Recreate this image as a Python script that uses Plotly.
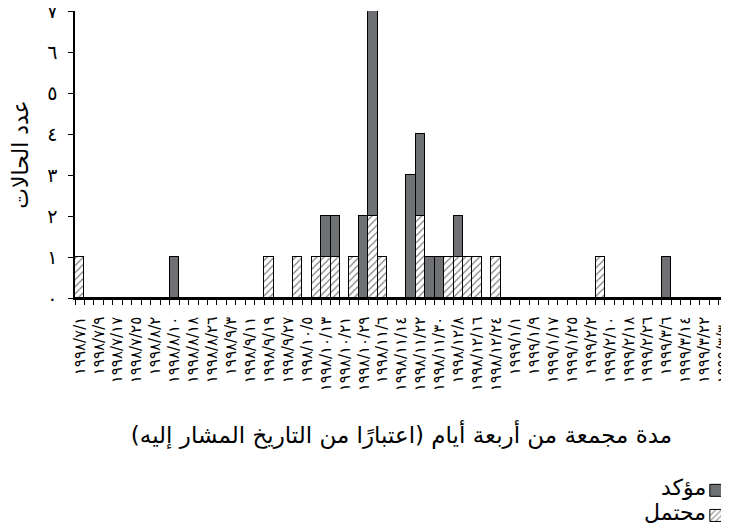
import plotly.graph_objects as go

# 4-day bins (start date of each bin)
categories = [
    "١٩٩٨/٧/١", "١٩٩٨/٧/٥", "١٩٩٨/٧/٩", "١٩٩٨/٧/١٣", "١٩٩٨/٧/١٧", "١٩٩٨/٧/٢١",
    "١٩٩٨/٧/٢٥", "١٩٩٨/٧/٢٩", "١٩٩٨/٨/٢", "١٩٩٨/٨/٦", "١٩٩٨/٨/١٠", "١٩٩٨/٨/١٤",
    "١٩٩٨/٨/١٨", "١٩٩٨/٨/٢٢", "١٩٩٨/٨/٢٦", "١٩٩٨/٨/٣٠", "١٩٩٨/٩/٣", "١٩٩٨/٩/٧",
    "١٩٩٨/٩/١١", "١٩٩٨/٩/١٥", "١٩٩٨/٩/١٩", "١٩٩٨/٩/٢٣", "١٩٩٨/٩/٢٧", "١٩٩٨/١٠/١",
    "١٩٩٨/١٠/٥", "١٩٩٨/١٠/٩", "١٩٩٨/١٠/١٣", "١٩٩٨/١٠/١٧", "١٩٩٨/١٠/٢١", "١٩٩٨/١٠/٢٥",
    "١٩٩٨/١٠/٢٩", "١٩٩٨/١١/٢", "١٩٩٨/١١/٦", "١٩٩٨/١١/١٠", "١٩٩٨/١١/١٤", "١٩٩٨/١١/١٨",
    "١٩٩٨/١١/٢٢", "١٩٩٨/١١/٢٦", "١٩٩٨/١١/٣٠", "١٩٩٨/١٢/٤", "١٩٩٨/١٢/٨", "١٩٩٨/١٢/١٢",
    "١٩٩٨/١٢/١٦", "١٩٩٨/١٢/٢٠", "١٩٩٨/١٢/٢٤", "١٩٩٨/١٢/٢٨", "١٩٩٩/١/١", "١٩٩٩/١/٥",
    "١٩٩٩/١/٩", "١٩٩٩/١/١٣", "١٩٩٩/١/١٧", "١٩٩٩/١/٢١", "١٩٩٩/١/٢٥", "١٩٩٩/١/٢٩",
    "١٩٩٩/٢/٢", "١٩٩٩/٢/٦", "١٩٩٩/٢/١٠", "١٩٩٩/٢/١٤", "١٩٩٩/٢/١٨", "١٩٩٩/٢/٢٢",
    "١٩٩٩/٢/٢٦", "١٩٩٩/٣/٢", "١٩٩٩/٣/٦", "١٩٩٩/٣/١٠", "١٩٩٩/٣/١٤", "١٩٩٩/٣/١٨",
    "١٩٩٩/٣/٢٢", "١٩٩٩/٣/٢٦", "١٩٩٩/٣/٣٠",
]

probable = [
    1, 0, 0, 0, 0, 0, 0, 0, 0, 0,
    0, 0, 0, 0, 0, 0, 0, 0, 0, 0,
    1, 0, 0, 1, 0, 1, 1, 1, 0, 1,
    0, 2, 1, 0, 0, 0, 2, 0, 0, 1,
    1, 1, 1, 0, 1, 0, 0, 0, 0, 0,
    0, 0, 0, 0, 0, 1, 0, 0, 0, 0,
    0, 0, 0, 0, 0, 0, 0, 0, 0,
]

confirmed = [
    0, 0, 0, 0, 0, 0, 0, 0, 0, 0,
    1, 0, 0, 0, 0, 0, 0, 0, 0, 0,
    0, 0, 0, 0, 0, 0, 1, 1, 0, 0,
    2, 5, 0, 0, 0, 3, 2, 1, 1, 0,
    1, 0, 0, 0, 0, 0, 0, 0, 0, 0,
    0, 0, 0, 0, 0, 0, 0, 0, 0, 0,
    0, 0, 1, 0, 0, 0, 0, 0, 0,
]

y_tick_values = [0, 1, 2, 3, 4, 5, 6, 7]
y_tick_labels = ["٠", "١", "٢", "٣", "٤", "٥", "٦", "٧"]

series_names = ["محتمل", "مؤكد"]
x_title = "مدة مجمعة من أربعة أيام (اعتبارًا من التاريخ المشار إليه)\u200f"
y_title = "عدد الحالات"

# show a label on every other bin
x_tick_text = [c if i % 2 == 0 else "" for i, c in enumerate(categories)]

FONT = "DejaVu Sans"

fig = go.Figure()
fig.add_trace(go.Bar(
    x=categories, y=probable, name="",
    hovertemplate=series_names[0] + ": %{y}<extra></extra>",
    marker=dict(color="white", line=dict(color="black", width=1),
                pattern=dict(shape="/", fgcolor="black", bgcolor="white",
                             size=5, solidity=0.25)),
))
fig.add_trace(go.Bar(
    x=categories, y=confirmed, name="",
    hovertemplate=series_names[1] + ": %{y}<extra></extra>",
    marker=dict(color="#6f7073", line=dict(color="black", width=1)),
))

# legend labels, written to the left of the legend swatches (right-to-left legend)
legend_label_y = [-0.749, -0.662]
for name, yy in zip(series_names, legend_label_y):
    fig.add_annotation(text=name, xref="paper", yref="paper", x=0.969, y=yy,
                       xanchor="right", yanchor="middle", showarrow=False,
                       font=dict(size=22, family=FONT, color="black"))

fig.update_layout(
    width=721, height=524,
    margin=dict(l=67, r=1, t=3, b=234, autoexpand=False),
    barmode="stack", bargap=0,
    plot_bgcolor="white", paper_bgcolor="white",
    font=dict(family=FONT, color="black"),
    showlegend=True,
    legend=dict(xref="container", yref="container",
                x=0.954, y=0.113, xanchor="left", yanchor="top",
                traceorder="reversed", font=dict(size=17, family=FONT),
                tracegroupgap=0,
                bgcolor="rgba(0,0,0,0)", itemclick=False),
    xaxis=dict(
        type="category",
        tickmode="array", tickvals=categories, ticktext=x_tick_text,
        tickangle=-90, tickson="boundaries",
        ticks="outside", ticklen=5, tickcolor="black", tickwidth=1,
        ticklabelstandoff=11,
        showline=True, linecolor="black", linewidth=1.5,
        showgrid=False, zeroline=False,
        tickfont=dict(size=15, family=FONT),
        title=dict(text=x_title, font=dict(size=23, family=FONT), standoff=37),
        range=[-0.5, len(categories) - 0.5],
        automargin=False,
    ),
    yaxis=dict(
        range=[0, 7],
        tickmode="array", tickvals=y_tick_values, ticktext=y_tick_labels,
        ticks="outside", ticklen=5, tickcolor="black", tickwidth=1,
        ticklabelstandoff=7, ticklabeloverflow="allow",
        showline=True, linecolor="black", linewidth=1.5,
        showgrid=False, zeroline=False,
        tickfont=dict(size=19, family=FONT),
        title=dict(text=y_title, font=dict(size=22, family=FONT), standoff=30),
        automargin=False,
    ),
)

fig.write_html("out.html")
